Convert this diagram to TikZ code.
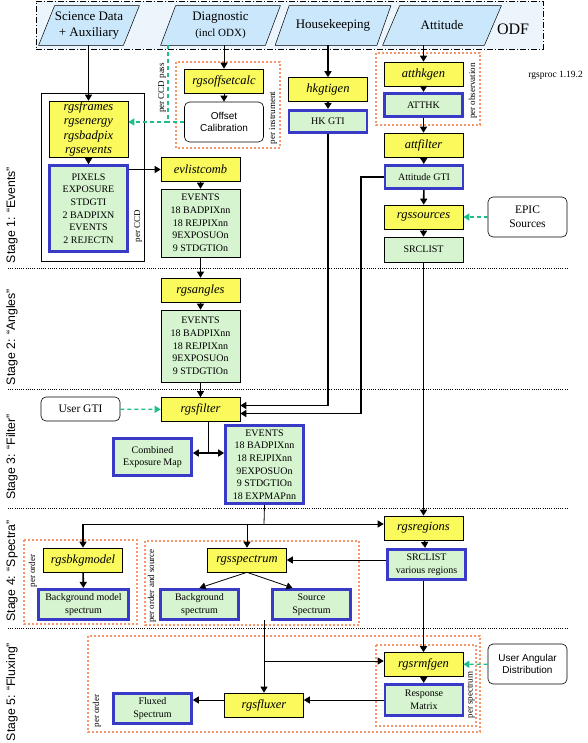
\documentclass[tikz,border=0pt]{standalone}
\usepackage{fontspec}
\setmainfont{Liberation Serif}
\setsansfont{Liberation Sans}
\usetikzlibrary{arrows.meta,backgrounds}
\definecolor{odfblue}{RGB}{236,245,252}
\definecolor{parblue}{RGB}{202,231,251}
\definecolor{progyel}{RGB}{250,250,92}
\definecolor{prodgrn}{RGB}{214,244,208}
\definecolor{prodblu}{RGB}{58,58,200}
\definecolor{grpora}{RGB}{244,152,108}
\definecolor{usrgrn}{RGB}{30,190,140}

\begin{document}
\begin{tikzpicture}
[x=1pt, y=-1pt, line width=0.8pt, >={Triangle[width=7pt,length=6pt]},
src/.style={rectangle, inner sep=0pt, minimum height=39pt, align=center, font=\fontsize{13}{16}\selectfont},
srcpar/.style={draw, fill=parblue, line width=0.5pt},
prog/.style={rectangle, draw, fill=progyel, line width=0.6pt, inner sep=0pt, minimum width=79pt, minimum height=24pt, align=center, font=\fontsize{12.5}{14.5}\selectfont\itshape},
prod/.style={rectangle, draw=prodblu, fill=prodgrn, line width=2.6pt, inner sep=0pt, minimum width=78pt, align=center, font=\fontsize{10}{12.7}\selectfont},
file/.style={rectangle, draw, fill=prodgrn, line width=0.6pt, inner sep=0pt, minimum width=79pt, align=center, font=\fontsize{10}{12.7}\selectfont},
ext/.style={rectangle, rounded corners=5pt, draw, fill=white, line width=0.6pt, inner sep=0pt, minimum width=79pt, minimum height=40pt, align=center, font=\fontsize{11.5}{14}\selectfont},
grp/.style={draw=grpora, line width=2pt, dash pattern=on 2pt off 2pt},
per/.style={rotate=90, inner sep=0pt, font=\fontsize{9}{10}\selectfont},
stage/.style={rotate=90, inner sep=0pt, font=\sffamily\fontsize{12.3}{14}\selectfont},
stagesep/.style={line width=0.6pt, dash pattern=on 1pt off 1.2pt},
arr/.style={->, line width=0.8pt},
tarr/.style={->, line width=1.6pt},
uarr/.style={->, draw=usrgrn, line width=1.2pt, dash pattern=on 4pt off 3pt}
]
\useasboundingbox (0,0) rectangle (587,743);

% ODF inputs
\node[src, minimum width=84pt] (sci) at (89,25.5) {Science Data\\+ Auxiliary};
\node[src, minimum width=104pt] (diag) at (220.5,25.5) {Diagnostic\\{\fontsize{11}{13}\selectfont (incl ODX)}};
\node[src, minimum width=101pt] (hk) at (333,25.5) {Housekeeping};
\node[src, minimum width=101pt] (att) at (442,25.5) {Attitude};
\begin{scope}[on background layer]
\node[draw, fill=odfblue, line width=0.6pt, dash pattern=on 6pt off 2pt on 1pt off 2pt, minimum width=507pt, minimum height=48pt] (odf) at (289.5,25) {};
\foreach \nd/\sl in {sci/8,diag/7.5,hk/7,att/8.5}
  \draw[srcpar] ([xshift=-\sl pt]\nd.south west) -- ([xshift=\sl pt]\nd.north west) -- ([xshift=\sl pt]\nd.north east) -- ([xshift=-\sl pt]\nd.south east) -- cycle;
\end{scope}
\node[font=\fontsize{16}{18}\selectfont] (odflbl) at (513,29) {ODF};
\node[anchor=west, inner sep=0pt, font=\fontsize{9.5}{11}\selectfont] (ver) at (528,75) {rgsproc 1.19.2};

% stages
\foreach \y in {268,389,508,628} \draw[stagesep] (8,\y) -- (567,\y);
\node[stage] (st1) at (12,215) {Stage 1: “Events”};
\node[stage] (st2) at (12,337) {Stage 2: “Angles”};
\node[stage] (st3) at (12,457) {Stage 3: “Filter”};
\node[stage] (st4) at (12,571) {Stage 4: “Spectra”};
\node[stage] (st5) at (12,692) {Stage 5: “Fluxing”};

% stage 1
\node[draw, line width=0.6pt, minimum width=103pt, minimum height=168pt] (ccdgrp) at (92.5,177) {};
\node[prog, minimum height=56pt] (frames) at (88.5,129) {rgsframes\\rgsenergy\\rgsbadpix\\rgsevents};
\node[prod, minimum height=86pt] (ccdprod) at (88.5,208.5) {PIXELS\\EXPOSURE\\STDGTI\\2 BADPIXN\\EVENTS\\2 REJECTN};
\node[per] (perccd) at (138,226) {per CCD};

\draw[grp] (176,62) rectangle (280,148);
\node[prog] (offcalc) at (224,81) {rgsoffsetcalc};
\node[ext, font=\sffamily] (offset) at (224,122) {Offset\\Calibration};
\node[per] (perins) at (273,118) {per instrument};
\node[per] (perpass) at (162,88) {per CCD pass};
\coordinate (pass) at (168,45);

\node[prog] (evcomb) at (200.5,169.5) {evlistcomb};
\node[file, minimum height=68pt] (ev1) at (200.5,223) {EVENTS\\18 BADPIXnn\\18 REJPIXnn\\9EXPOSUOn\\9 STDGTIOn};

\node[prog] (hkgen) at (328,89.5) {hkgtigen};
\node[prod, minimum height=22.5pt] (hkgti) at (328,121.5) {HK GTI};

\draw[grp] (376,53) rectangle (480,125);
\node[prog] (athk) at (423.5,74) {atthkgen};
\node[prod, minimum height=23.5pt] (atthk) at (423.5,105) {ATTHK};
\node[per] (perobs) at (473,91) {per observation};
\node[prog] (attflt) at (423.5,145) {attfilter};
\node[prod, minimum height=23.5pt] (attgti) at (424,177) {Attitude GTI};
\node[prog] (srcs) at (423.5,217) {rgssources};
\node[file, minimum height=25pt] (srclist) at (423.5,249.5) {SRCLIST};
\node[ext] (epic) at (527.5,217) {EPIC\\Sources};

% stage 2
\node[prog] (angles) at (200.5,290) {rgsangles};
\node[file, minimum height=72pt] (ev2) at (200.5,346) {EVENTS\\18 BADPIXnn\\18 REJPIXnn\\9EXPOSUOn\\9 STDGTIOn};

% stage 3
\node[prog] (filter) at (200.5,409.5) {rgsfilter};
\node[ext, minimum height=24pt] (usergti) at (80.5,409) {User GTI};
\node[prod, minimum height=37.5pt] (expmap) at (152.5,457) {Combined\\Exposure Map};
\node[prod, minimum height=78.5pt] (ev3) at (264.5,464.5) {EVENTS\\18 BADPIXnn\\18 REJPIXnn\\9EXPOSUOn\\9 STDGTIOn\\18 EXPMAPnn};
\coordinate (fsplit) at (208,453);

% stage 4
\draw[grp] (24,540) rectangle (137,624);
\node[prog] (bkgmod) at (83,560) {rgsbkgmodel};
\node[prod, minimum width=90.5pt, minimum height=30.5pt] (bkgspec) at (83.5,604.5) {Background model\\spectrum};
\node[per] (perord) at (33,571) {per order};
\draw[grp] (145,541) rectangle (359,625);
\node[prog] (spec) at (247,560) {rgsspectrum};
\node[prod, minimum height=30.5pt] (bgsp) at (199.5,604.5) {Background\\spectrum};
\node[prod, minimum height=30.5pt] (srcsp) at (311.5,604.5) {Source\\Spectrum};
\node[per] (perordsrc) at (152,586) {per order and source};
\node[prog] (regions) at (423.5,528) {rgsregions};
\node[prod, minimum height=30.5pt] (srcreg) at (426.5,564.5) {SRCLIST\\various regions};
\coordinate (spl) at (264,524);

% stage 5
\draw[grp] (88,636) rectangle (480,732);
\draw[grp] (376,645) rectangle (476,726);
\node[prog] (rmfgen) at (423.5,664.5) {rgsrmfgen};
\node[prod, minimum height=31.5pt] (resp) at (424,700) {Response\\Matrix};
\node[ext, font=\sffamily] (uad) at (527.5,664) {User Angular\\Distribution};
\node[prog] (fluxer) at (264,705) {rgsfluxer};
\node[prod, minimum height=30.5pt] (fluxed) at (152.5,708.5) {Fluxed\\Spectrum};
\node[per] (perord2) at (97,711) {per order};
\node[per] (perspec) at (471,695) {per spectrum};
\coordinate (fin) at (264,620);
\coordinate (fbr) at (264,661);

% connectors
\draw[arr] (frames.north |- sci.south) -- (frames.north);
\draw[arr] (offcalc.north |- diag.south) -- (offcalc.north);
\draw[arr] (offcalc) -- (offset);
\draw[uarr] (pass) |- (frames.east |- offset.west);
\draw[draw=usrgrn, line width=1.2pt, dash pattern=on 4pt off 3pt] (offset.west) -- (pass |- offset.west);
\draw[arr] (frames) -- (ccdprod);
\draw[arr] (ccdprod.east |- evcomb.west) -- (evcomb.west);
\draw[arr] (evcomb) -- (ev1);

\draw[tarr] (hkgen.north |- hk.south) -- (hkgen.north);
\draw[tarr] (hkgen) -- (hkgti);
\draw[tarr] (athk.north |- att.south) -- (athk.north);
\draw[tarr] (athk) -- (atthk);
\draw[tarr] (atthk) -- (attflt);
\draw[tarr] (attflt) -- (attgti);
\draw[tarr] (attgti) -- (srcs);
\draw[tarr] (srcs) -- (srclist);
\draw[uarr] (epic) -- (srcs);

\draw[arr] (ev1) -- (angles);
\draw[arr] (angles) -- (ev2);
\draw[arr] (ev2) -- (filter);
\draw[uarr] (usergti) -- (filter);
\draw[tarr] (hkgti.south) |- ([yshift=4pt]filter.east);
\draw[tarr] (attgti.west) -- ++(-23,0) |- ([yshift=-4pt]filter.east);
\draw[line width=0.8pt] (filter.south -| fsplit) -- (fsplit);
\draw[tarr] (fsplit) -- (expmap.east |- fsplit);
\draw[tarr] (fsplit) -- (ev3.west |- fsplit);

\draw[tarr] (srclist.south) -- (regions.north);
\draw[line width=0.8pt] (ev3.south) -- (spl);
\draw[arr] (bkgmod.north |- spl) -- (regions.west |- spl);
\draw[tarr] (bkgmod.north |- spl) -- (bkgmod.north);
\draw[arr] (spec.north |- spl) -- (spec.north);
\draw[tarr] (bkgmod) -- (bkgspec);
\draw[tarr] (regions) -- (srcreg);
\draw[arr] (srcreg.west |- spec.east) -- (spec.east);
\draw[arr] (spec.south) -- (bgsp.north);
\draw[arr] (spec.south) -- ([xshift=-19pt]srcsp.north);

\draw[tarr] (srcreg.south -| rmfgen.north) -- (rmfgen.north);
\draw[uarr] (uad) -- (rmfgen);
\draw[tarr] (rmfgen) -- (resp);
\draw[arr] (fin) -- (fluxer.north);
\draw[arr] (fbr) -- (rmfgen.west |- fbr);
\draw[arr] (resp.west) -- (fluxer.east |- resp.west);
\draw[arr] (fluxer.west |- resp.west) -- (fluxed.east |- resp.west);
\end{tikzpicture}
\end{document}
